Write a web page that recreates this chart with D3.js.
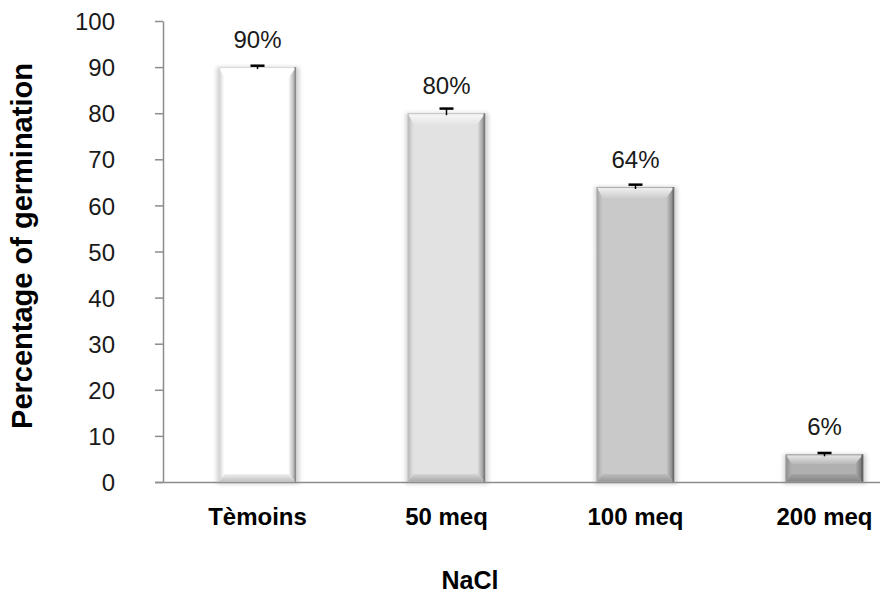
<!DOCTYPE html>
<html>
<head>
<meta charset="utf-8">
<script src="https://cdn.jsdelivr.net/npm/d3@7"></script>
<style>
  html, body { margin: 0; padding: 0; background: #fff; }
  svg { display: block; font-family: "Liberation Sans", Arial, sans-serif; }
</style>
</head>
<body>
<svg id="chart" width="880" height="596"></svg>
<script>
// Germination percentage under NaCl treatments
const categories = ["Tèmoins", "50 meq", "100 meq", "200 meq"];
const germination = [90, 80, 64, 6];
const errors = [0.3, 1.0, 0.5, 0.3];
const valueLabels = ["90%", "80%", "64%", "6%"];
const barColors = ["#ffffff", "#e2e2e2", "#c9c9c9", "#b0b0b0"];
const yTicks = [0, 10, 20, 30, 40, 50, 60, 70, 80, 90, 100];

const svg = d3.select("#chart");
const margin = { left: 163, top: 21, bottom: 114 };
const plotH = 596 - margin.top - margin.bottom;   // 461
const step = 189;
const FONT = "Liberation Sans, Arial, sans-serif";

const x = d3.scaleBand()
  .domain(categories)
  .range([margin.left, margin.left + step * categories.length])
  .paddingInner(0.59)
  .paddingOuter(0.295);

const y = d3.scaleLinear()
  .domain([0, 100])
  .range([margin.top + plotH, margin.top]);

const defs = svg.append("defs");

// shading helpers for the bevelled bars
function shade(hex, k) {
  const c = d3.color(hex);
  return k >= 0 ? d3.interpolateRgb(c, "#ffffff")(k) : d3.interpolateRgb(c, "#000000")(-k);
}
function linGrad(id, x1, y1, x2, y2, stops) {
  const g = defs.append("linearGradient").attr("id", id)
    .attr("x1", x1).attr("y1", y1).attr("x2", x2).attr("y2", y2);
  stops.forEach(([o, c]) => g.append("stop").attr("offset", o).attr("stop-color", c));
}
const blur = defs.append("filter").attr("id", "soft").attr("x", "-20%").attr("y", "-20%").attr("width", "140%").attr("height", "140%");
blur.append("feGaussianBlur").attr("stdDeviation", 2);

// y axis
const yAxis = d3.axisLeft(y).tickValues(yTicks).tickSize(8).tickPadding(40).tickSizeOuter(0);
const gy = svg.append("g").attr("transform", `translate(${margin.left},0)`).call(yAxis);
gy.select(".domain").attr("stroke", "#8c8c8c").attr("stroke-width", 1.5);
gy.selectAll(".tick line").attr("stroke", "#8c8c8c").attr("stroke-width", 1.5);
gy.selectAll(".tick text").attr("font-size", 24).attr("fill", "#1a1a1a").attr("dy", "0.36em")
  .attr("font-family", FONT);

// bars
const bw = x.bandwidth();
const bars = svg.append("g");
categories.forEach((cat, i) => {
  const base = barColors[i];
  const x0 = x(cat), x1 = x0 + bw;
  const yt = y(germination[i]), yb = y(0);
  const h = yb - yt;
  const bv = Math.min(11, h * 0.35);   // top bevel depth
  const bb = Math.min(8, h * 0.3);     // bottom bevel depth
  const sl = 6, sr = 8;                // side bevel widths
  const g = bars.append("g");

  // soft shadow
  g.append("rect").attr("x", x0 - 2).attr("y", yt).attr("width", bw + 5).attr("height", h + 2)
    .attr("fill", "#000").attr("opacity", 0.18).attr("filter", "url(#soft)");

  g.append("rect").attr("x", x0).attr("y", yt).attr("width", bw).attr("height", h).attr("fill", base);

  linGrad(`gl${i}`, 0, 0, 1, 0, [[0, shade(base, -0.22)], [0.5, shade(base, -0.08)], [1, base]]);
  linGrad(`gr${i}`, 0, 0, 1, 0, [[0, base], [0.5, shade(base, -0.2)], [1, shade(base, -0.42)]]);
  linGrad(`gt${i}`, 0, 0, 0, 1, [[0, shade(base, 0.75)], [1, shade(base, 0.1)]]);
  linGrad(`gb${i}`, 0, 0, 0, 1, [[0, shade(base, -0.06)], [1, shade(base, -0.26)]]);

  // left side
  g.append("path").attr("fill", `url(#gl${i})`)
    .attr("d", `M${x0},${yt}L${x0 + sl},${yt + bv}L${x0 + sl},${yb - bb}L${x0},${yb}Z`);
  // right side
  g.append("path").attr("fill", `url(#gr${i})`)
    .attr("d", `M${x1},${yt}L${x1 - sr},${yt + bv}L${x1 - sr},${yb - bb}L${x1},${yb}Z`);
  // top bevel
  g.append("path").attr("fill", `url(#gt${i})`)
    .attr("d", `M${x0},${yt}L${x1},${yt}L${x1 - sr},${yt + bv}L${x0 + sl},${yt + bv}Z`);
  // bottom bevel
  g.append("path").attr("fill", `url(#gb${i})`)
    .attr("d", `M${x0 + sl},${yb - bb}L${x1 - sr},${yb - bb}L${x1},${yb}L${x0},${yb}Z`);
  // edge lines
  g.append("rect").attr("x", x0 + 0.5).attr("y", yt + 0.5).attr("width", bw - 1).attr("height", h - 1)
    .attr("fill", "none").attr("stroke", shade(base, -0.15)).attr("stroke-width", 1);
  g.append("line").attr("x1", x1 - 1).attr("x2", x1 - 1).attr("y1", yt).attr("y2", yb)
    .attr("stroke", shade(base, -0.45)).attr("stroke-width", 1.5);
});

// error bars
const eb = svg.append("g");
categories.forEach((cat, i) => {
  const cx = x(cat) + bw / 2;
  const hi = y(germination[i] + errors[i]);
  const lo = y(germination[i]);
  eb.append("line").attr("x1", cx).attr("x2", cx).attr("y1", hi).attr("y2", lo + 2)
    .attr("stroke", "#000").attr("stroke-width", 1.5);
  eb.append("line").attr("x1", cx - 7).attr("x2", cx + 7).attr("y1", hi).attr("y2", hi)
    .attr("stroke", "#000").attr("stroke-width", 2.5);
});

// x axis
const xAxis = d3.axisBottom(x).tickSize(0).tickPadding(26);
const gx = svg.append("g").attr("transform", `translate(0,${y(0)})`).call(xAxis);
gx.select(".domain").attr("stroke", "#8c8c8c").attr("stroke-width", 1.5)
  .attr("d", `M${margin.left - 8},0.5H${margin.left + step * categories.length}`);
gx.selectAll(".tick text").attr("font-size", 24).attr("font-weight", "bold").attr("fill", "#000")
  .attr("font-family", FONT);

// value labels
svg.append("g").selectAll("text").data(categories).join("text")
  .attr("x", d => x(d) + bw / 2)
  .attr("y", (d, i) => y(germination[i]) - 19)
  .attr("text-anchor", "middle")
  .attr("font-size", 24)
  .attr("fill", "#1a1a1a")
  .text((d, i) => valueLabels[i]);

// axis titles
svg.append("text")
  .attr("transform", `translate(32,246) rotate(-90)`)
  .attr("text-anchor", "middle")
  .attr("font-size", 29).attr("font-weight", "bold")
  .text("Percentage of germination");

svg.append("text")
  .attr("x", 470).attr("y", 589)
  .attr("text-anchor", "middle")
  .attr("font-size", 25).attr("font-weight", "bold")
  .text("NaCl");
</script>
</body>
</html>
